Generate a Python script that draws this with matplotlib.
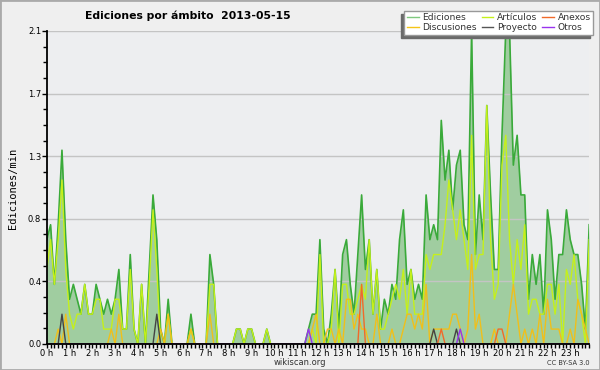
import numpy as np
import matplotlib.pyplot as plt
from matplotlib.lines import Line2D
from matplotlib.patches import Rectangle

# ediciones por minuto, una muestra cada 10 minutos (144 por dia)
ediciones = [
    0.7, 0.8, 0.4, 0.8, 1.3, 0.7, 0.3, 0.4, 0.3, 0.2, 0.4, 0.2,
    0.2, 0.4, 0.3, 0.2, 0.3, 0.2, 0.3, 0.5, 0.1, 0.1, 0.6, 0.1,
    0.0, 0.4, 0.0, 0.5, 1.0, 0.7, 0.1, 0.0, 0.3, 0.0, 0.0, 0.0,
    0.0, 0.0, 0.2, 0.0, 0.0, 0.0, 0.0, 0.6, 0.4, 0.0, 0.0, 0.0,
    0.0, 0.0, 0.1, 0.1, 0.0, 0.1, 0.1, 0.0, 0.0, 0.0, 0.1, 0.0,
    0.0, 0.0, 0.0, 0.0, 0.0, 0.0, 0.0, 0.0, 0.0, 0.1, 0.2, 0.2,
    0.7, 0.1, 0.0, 0.2, 0.5, 0.1, 0.6, 0.7, 0.4, 0.2, 0.6, 1.0,
    0.5, 0.7, 0.2, 0.5, 0.1, 0.3, 0.2, 0.4, 0.3, 0.7, 0.9, 0.4,
    0.5, 0.3, 0.4, 0.3, 1.0, 0.7, 0.8, 0.7, 1.5, 1.1, 1.3, 0.9,
    1.2, 1.3, 0.8, 0.7, 2.1, 0.6, 1.0, 0.7, 1.6, 1.0, 0.5, 0.5,
    1.4, 2.1, 2.1, 1.2, 1.4, 1.0, 1.0, 0.3, 0.6, 0.4, 0.6, 0.2,
    0.9, 0.7, 0.3, 0.6, 0.6, 0.9, 0.7, 0.6, 0.6, 0.4, 0.1, 0.8,
]
articulos = [
    0.5, 0.7, 0.4, 0.7, 1.1, 0.5, 0.2, 0.1, 0.2, 0.2, 0.4, 0.2,
    0.2, 0.3, 0.3, 0.1, 0.1, 0.1, 0.3, 0.3, 0.1, 0.1, 0.5, 0.1,
    0.0, 0.4, 0.0, 0.4, 0.9, 0.5, 0.0, 0.0, 0.2, 0.0, 0.0, 0.0,
    0.0, 0.0, 0.1, 0.0, 0.0, 0.0, 0.0, 0.4, 0.4, 0.0, 0.0, 0.0,
    0.0, 0.0, 0.1, 0.1, 0.0, 0.1, 0.1, 0.0, 0.0, 0.0, 0.1, 0.0,
    0.0, 0.0, 0.0, 0.0, 0.0, 0.0, 0.0, 0.0, 0.0, 0.0, 0.1, 0.0,
    0.6, 0.0, 0.0, 0.1, 0.5, 0.0, 0.4, 0.4, 0.2, 0.2, 0.3, 0.4,
    0.3, 0.7, 0.2, 0.5, 0.1, 0.1, 0.2, 0.3, 0.4, 0.3, 0.5, 0.2,
    0.5, 0.2, 0.2, 0.2, 0.6, 0.5, 0.6, 0.6, 0.6, 0.8, 1.1, 0.9,
    0.7, 0.9, 0.7, 0.5, 1.4, 0.5, 0.6, 0.6, 1.6, 0.7, 0.3, 0.4,
    1.2, 1.4, 0.7, 0.4, 0.7, 0.5, 0.8, 0.2, 0.3, 0.3, 0.2, 0.2,
    0.4, 0.4, 0.2, 0.4, 0.0, 0.5, 0.4, 0.6, 0.3, 0.2, 0.0, 0.7,
]
discusiones = [
    0.0, 0.0, 0.0, 0.1, 0.0, 0.2, 0.0, 0.0, 0.0, 0.0, 0.0, 0.0,
    0.0, 0.0, 0.0, 0.0, 0.0, 0.1, 0.0, 0.2, 0.0, 0.0, 0.0, 0.0,
    0.0, 0.0, 0.0, 0.0, 0.0, 0.0, 0.1, 0.0, 0.2, 0.0, 0.0, 0.0,
    0.0, 0.0, 0.1, 0.0, 0.0, 0.0, 0.0, 0.2, 0.0, 0.0, 0.0, 0.0,
    0.0, 0.0, 0.0, 0.0, 0.0, 0.0, 0.0, 0.0, 0.0, 0.0, 0.0, 0.0,
    0.0, 0.0, 0.0, 0.0, 0.0, 0.0, 0.0, 0.0, 0.0, 0.0, 0.1, 0.2,
    0.0, 0.0, 0.1, 0.1, 0.0, 0.1, 0.0, 0.3, 0.3, 0.1, 0.2, 0.1,
    0.1, 0.0, 0.0, 0.2, 0.0, 0.0, 0.0, 0.1, 0.0, 0.0, 0.1, 0.2,
    0.2, 0.1, 0.2, 0.1, 0.4, 0.0, 0.1, 0.1, 0.1, 0.1, 0.1, 0.2,
    0.2, 0.1, 0.0, 0.1, 0.6, 0.1, 0.2, 0.0, 0.0, 0.0, 0.1, 0.0,
    0.0, 0.0, 0.2, 0.4, 0.2, 0.0, 0.1, 0.0, 0.1, 0.0, 0.2, 0.0,
    0.3, 0.1, 0.1, 0.1, 0.0, 0.0, 0.1, 0.0, 0.3, 0.2, 0.1, 0.0,
]
proyecto = [0.0] * 144
proyecto[4] = 0.2
proyecto[29] = 0.2
proyecto[102] = 0.1
proyecto[108] = 0.1
anexos = [0.0] * 144
anexos[83] = 0.4
anexos[104] = 0.1
anexos[119] = 0.1
anexos[120] = 0.1
otros = [0.0] * 144
otros[69] = 0.1
otros[109] = 0.1

nombres = ["Ediciones", "Discusiones", "Artículos", "Proyecto", "Anexos", "Otros"]
hour_labels = [str(h) + " h" for h in range(24)]
ytick_labels = ["0.0", "0.4", "0.8", "1.3", "1.7", "2.1"]

horas = np.arange(144) / 6.0

fig = plt.figure(figsize=(6, 3.7), dpi=100, facecolor="#efefef")
ax = fig.add_axes([0.078, 0.0703, 0.904, 0.846])
ax.set_facecolor("#edeef0")

ax.fill_between(horas, ediciones, color="#a0cda0", lw=0, zorder=1)
ax.plot(horas, ediciones, color="#3aaa3a", lw=1.2, zorder=2)
ax.plot(horas, articulos, color="#c5f01a", lw=1, zorder=3)
ax.plot(horas, discusiones, color="#f0bf1a", lw=1, zorder=4)
ax.plot(horas, proyecto, color="#444444", lw=1, zorder=5)
ax.plot(horas, anexos, color="#f06a2a", lw=1, zorder=5)
ax.plot(horas, otros, color="#9933ee", lw=1, zorder=5)

ax.set_xlim(0, 143 / 6.0)
ax.set_ylim(0, 2.1)
ax.set_xticks(np.arange(24))
ax.set_xticklabels(hour_labels)
ax.set_xticks(horas, minor=True)
ax.set_yticks(np.linspace(0, 2.1, 6))
ax.set_yticklabels(ytick_labels)
ax.set_yticks(np.arange(0, 2.11, 0.105), minor=True)
ax.tick_params(which="major", length=3.5, width=1, labelsize=6, pad=0.5)
ax.tick_params(axis="x", which="major", length=3)
ax.tick_params(which="minor", length=3, width=1)
ax.yaxis.grid(True, color="#c4c4c4", lw=1)

for s in ["top", "right"]:
    ax.spines[s].set_visible(False)
for s in ["left", "bottom"]:
    ax.spines[s].set_linewidth(1.3)
    ax.spines[s].set_zorder(10)

fig.text(0.142, 0.958, "Ediciones por ámbito  2013-05-15", fontsize=7.8,
         fontweight="bold", ha="left", va="center")
fig.text(0.022, 0.49, "Ediciones/min", rotation=90, family="DejaVu Sans Mono",
         fontsize=7.5, ha="center", va="center")
fig.text(0.5, 0.02, "wikiscan.org", fontsize=6, color="#333333",
         ha="center", va="center")
fig.text(0.983, 0.02, "CC BY-SA 3.0", fontsize=4.8, color="#333333",
         ha="right", va="center")

colores = ["#7fc97f", "#f5c518", "#c5f01a", "#555555", "#f06a2a", "#9933ee"]
handles = [Line2D([], [], color=c, lw=1) for c in colores]
leg = fig.legend(handles, nombres, ncol=3, loc="upper right",
                 bbox_to_anchor=(0.989, 0.971), fontsize=6.6, fancybox=False,
                 framealpha=1, edgecolor="#999999", handlelength=1.3,
                 handletextpad=0.4, columnspacing=0.5, labelspacing=0.05,
                 borderpad=0.3, borderaxespad=0)
for t in leg.get_texts():
    t.set_color("#333333")

# sombra del recuadro de la leyenda, desplazada a la izquierda y abajo
fig.canvas.draw()
bb = leg.get_window_extent()
fig.add_artist(Rectangle((bb.x0 - 3, bb.y0 - 3.5), bb.width, bb.height,
                         transform=None, color="#6a6a6a",
                         zorder=leg.get_zorder() - 0.5))

fig.add_artist(Rectangle((0, 0), 1, 1, transform=fig.transFigure, fill=False,
                         edgecolor="#aaaaaa", lw=2))

fig.savefig("out.png", dpi=100, facecolor=fig.get_facecolor())
